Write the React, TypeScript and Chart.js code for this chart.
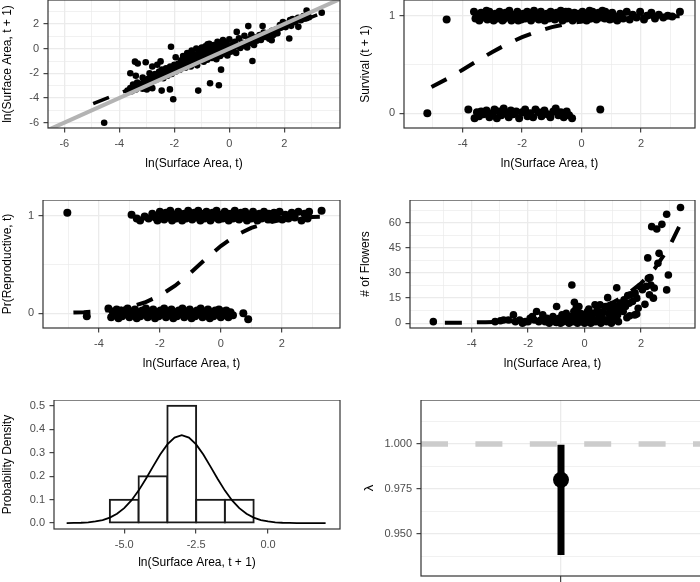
import React, { useEffect, useRef } from "react";
import { Chart, registerables } from "chart.js";
Chart.register(...registerables);

const FONT = "'Liberation Sans', Arial, Helvetica, sans-serif";
const GRID = "#EBEBEB";
const DARK = "#333333";
const TICK_TEXT = "#4D4D4D";

// ---------- Panel 1: growth ----------
const growthPoints: [number, number][] = [
  [-3.7,-3.4],[-3.6,-3.2],[-3.55,-3.45],[-3.5,-2.9],[-3.45,-3.15],[-3.4,-3.3],[-3.35,-2.75],[-3.3,-3.05],
  [-3.2,-2.85],[-3.15,-3.25],[-3.1,-2.55],[-3.05,-2.95],[-3.0,-3.3],[-2.95,-2.45],[-2.9,-2.75],[-2.85,-3.1],
  [-2.8,-2.35],[-2.75,-2.6],[-2.7,-2.05],[-2.65,-2.5],[-2.6,-2.25],[-2.55,-1.85],[-2.5,-2.15],[-2.45,-1.7],
  [-2.4,-2.4],[-2.35,-1.95],[-2.3,-1.6],[-2.25,-2.2],[-2.2,-1.75],[-2.15,-1.45],[-2.1,-2.05],[-2.05,-1.65],
  [-2.0,-1.3],[-1.95,-1.85],[-1.9,-1.5],[-1.85,-1.2],[-1.8,-1.7],[-1.75,-0.95],[-1.72,-1.35],[-1.68,-0.6],
  [-1.65,-1.1],[-1.6,-1.55],[-1.57,-0.8],[-1.53,-0.35],[-1.5,-1.25],[-1.47,-0.95],[-1.43,-0.55],[-1.4,-1.45],
  [-1.37,-0.15],[-1.33,-0.75],[-1.3,-1.1],[-1.27,-0.45],[-1.23,-0.9],[-1.2,0.0],[-1.17,-1.35],[-1.13,-0.6],
  [-1.1,-0.25],[-1.07,-0.95],[-1.03,-0.4],[-1.0,0.1],[-0.97,-0.7],[-0.93,-1.05],[-0.9,-0.3],[-0.87,0.2],
  [-0.83,-0.55],[-0.8,-0.9],[-0.77,-0.15],[-0.73,0.4],[-0.7,-0.45],[-0.67,0.05],[-0.63,-0.75],[-0.6,-0.2],
  [-0.57,0.3],[-0.53,-0.5],[-0.5,0.0],[-0.47,-0.85],[-0.43,0.55],[-0.4,-0.3],[-0.37,0.15],[-0.33,-0.6],
  [-0.3,0.35],[-0.27,-0.1],[-0.23,0.7],[-0.2,-0.4],[-0.17,0.2],[-0.13,-0.15],[-0.1,0.45],[-0.07,-0.55],
  [-0.03,0.1],[0.0,0.75],[0.05,-0.25],[0.1,0.3],[0.15,0.0],[0.2,0.55],[0.25,-0.35],[0.3,0.2],
  [0.35,0.85],[0.4,0.05],[0.45,0.5],[0.5,0.25],[0.55,1.05],[0.6,0.4],[0.65,0.1],[0.7,0.75],
  [0.75,0.45],[0.8,1.15],[0.85,0.6],[0.9,0.3],[0.95,0.9],[1.0,0.65],[1.1,1.1],[1.15,0.7],
  [1.25,1.3],[1.3,0.95],[1.4,1.2],[1.45,0.8],[1.55,1.45],[1.6,1.1],[1.7,1.55],[1.75,1.25],
  [1.85,1.7],[1.95,2.15],[2.05,1.75],[2.15,2.05],[2.25,1.85],[2.3,2.4],[2.4,2.15],[2.5,2.5],
  [2.6,2.3],[2.7,2.65],[2.75,2.45],[2.85,2.85],[2.9,2.55],
  [-4.55,-6.0],[-3.43,-1.05],[-3.33,-1.2],[-3.04,-1.1],[-2.8,-1.45],[-2.5,-1.03],[-3.6,-1.99],
  [-3.4,-2.2],[-3.15,-2.35],[-2.8,-3.2],[-2.46,-3.4],[-2.16,-3.3],[-2.04,-4.1],[-2.12,0.16],
  [-1.13,-3.4],[-0.7,-2.8],[-0.38,-2.97],[-0.3,-1.7],[0.84,-1.0],[-0.79,0.35],[0.27,1.36],
  [0.69,1.83],[1.21,1.83],[2.18,0.82],[2.51,1.77],[2.81,3.09],[2.81,2.46],[3.36,2.92],
  [1.54,0.68],[1.84,1.91],[2.21,2.32],[1.66,1.23],[-2.9,-2.0],[-2.62,-1.3],[-1.95,-0.7],
];
const growthFitX = [-4.95, 3.45];
const growthFitY = [-4.46, 2.97];
const identityX = [-8, 6];
const identityY = [-8, 6];

// ---------- Panel 2: survival ----------
const survivalPoints: [number, number][] = [
  [-3.62,1.04],[-3.57,0.97],[-3.5,1.01],[-3.44,0.95],[-3.38,1.03],[-3.3,0.98],[-3.24,1.02],[-3.17,0.96],
  [-3.1,1.04],[-3.03,0.99],[-2.96,0.95],[-2.9,1.02],[-2.83,0.97],[-2.76,1.04],[-2.7,1.0],[-2.63,0.96],
  [-2.56,1.03],[-2.5,0.98],[-2.43,1.05],[-2.36,0.95],[-2.3,1.01],[-2.23,0.97],[-2.16,1.04],[-2.1,0.99],
  [-2.03,0.96],[-1.96,1.02],[-1.9,0.97],[-1.83,1.04],[-1.77,1.0],[-1.7,0.95],[-1.64,1.03],[-1.57,0.98],
  [-1.5,1.01],[-1.44,0.96],[-1.37,1.04],[-1.3,0.99],[-1.24,0.95],[-1.17,1.02],[-1.1,0.97],[-1.04,1.04],
  [-0.97,1.0],[-0.9,0.96],[-0.84,1.03],[-0.77,0.98],[-0.7,1.05],[-0.64,0.95],[-0.57,1.01],[-0.5,0.97],
  [-0.44,1.04],[-0.37,0.99],[-0.3,0.95],[-0.24,1.03],[-0.17,0.98],[-0.1,1.02],[-0.04,0.96],[0.03,1.04],
  [0.1,0.99],[0.17,0.95],[0.23,1.02],[0.3,0.97],[0.37,1.04],[0.43,1.0],[0.5,0.96],[0.57,1.03],
  [0.63,0.98],[0.7,1.05],[0.78,0.97],[0.86,1.02],[0.95,0.96],[1.03,1.03],[1.12,0.99],[1.2,0.95],
  [1.3,1.02],[1.4,0.97],[1.52,1.04],[1.62,0.96],[1.72,1.01],[1.85,0.98],[1.97,1.04],[2.1,0.96],
  [2.2,1.0],[2.35,1.03],[2.47,0.97],[2.6,1.01],[2.75,0.98],[2.9,1.0],[3.05,0.99],[3.31,1.04],
  [-4.54,0.96],
  [-3.47,0.97],[-3.2,1.05],[-2.93,1.0],[-2.66,0.95],[-2.4,1.0],[-2.13,0.95],[-1.86,0.99],[-1.6,1.05],
  [-1.33,1.0],[-1.07,0.98],[-0.8,1.01],[-0.53,1.04],[-0.27,0.97],[0.0,1.0],[0.27,1.05],[0.53,1.0],
  [0.8,1.04],[1.08,0.97],
  [-5.19,0.0],[0.63,0.04],
  [-3.81,0.04],[-3.6,-0.05],[-3.52,0.01],[-3.45,-0.03],[-3.38,0.02],[-3.3,-0.01],[-3.2,0.03],[-3.1,-0.04],
  [-3.0,0.0],[-2.93,0.04],[-2.85,-0.05],[-2.78,0.02],[-2.7,-0.02],[-2.62,0.05],[-2.55,0.0],[-2.45,-0.04],
  [-2.38,0.03],[-2.3,-0.01],[-2.2,0.02],[-2.1,-0.05],[-2.0,0.01],[-1.9,0.04],[-1.82,-0.03],[-1.73,0.0],
  [-1.63,-0.04],[-1.55,0.04],[-1.45,0.01],[-1.35,-0.03],[-1.25,0.03],[-1.15,-0.01],[-1.05,-0.04],[-0.95,0.02],
  [-0.87,0.05],[-0.78,-0.02],[-0.7,0.01],[-0.6,-0.04],[-0.5,0.02],[-0.42,-0.02],[-0.32,-0.05],
];
const survivalFitX = [-5.05,-4.5,-4.0,-3.5,-3.0,-2.5,-2.0,-1.5,-1.0,-0.5,0,0.5,1.0,1.5,2.0,2.5,3.0,3.3];
const survivalFitY = [0.2696,0.357,0.446,0.5385,0.6286,0.7104,0.7806,0.8376,0.882,0.9156,0.9402,0.958,0.9706,0.9795,0.9858,0.9902,0.9932,0.9945];

// ---------- Panel 3: reproductive ----------
const reproPoints: [number, number][] = [
  [-5.04,1.03],[-2.93,1.01],[-2.76,0.97],[-2.65,0.95],[-2.5,0.99],[-2.37,0.97],[-2.25,1.02],[-2.15,0.98],
  [-2.08,0.95],[-2.0,1.04],[-1.93,0.99],[-1.86,0.96],[-1.8,1.03],[-1.73,0.98],[-1.66,1.05],[-1.6,0.95],
  [-1.53,1.01],[-1.47,0.97],[-1.4,1.04],[-1.34,0.99],[-1.27,0.95],[-1.2,1.02],[-1.14,0.97],[-1.07,1.05],
  [-1.0,1.0],[-0.94,0.96],[-0.87,1.03],[-0.8,0.98],[-0.74,1.05],[-0.67,0.95],[-0.6,1.01],[-0.54,0.97],
  [-0.47,1.04],[-0.4,0.99],[-0.34,0.95],[-0.27,1.03],[-0.2,0.98],[-0.14,1.05],[-0.07,0.96],[0.0,1.01],
  [0.06,0.97],[0.13,1.04],[0.2,0.99],[0.26,0.95],[0.33,1.02],[0.4,0.97],[0.46,1.05],[0.53,1.0],
  [0.6,0.96],[0.66,1.03],[0.73,0.98],[0.8,1.04],[0.86,0.95],[0.93,1.01],[1.0,0.97],[1.06,1.04],
  [1.13,0.99],[1.2,0.95],[1.27,1.02],[1.34,0.97],[1.42,1.04],[1.5,0.98],[1.58,1.02],[1.66,0.96],
  [1.75,1.03],[1.84,0.99],[1.93,1.04],[2.02,0.96],[2.12,1.01],[2.22,0.97],[2.33,1.03],[2.43,0.98],
  [2.55,1.04],[2.65,0.95],[2.75,1.02],[2.85,0.97],[2.9,1.04],[3.31,1.05],
  [-1.9,1.02],[-1.63,0.99],[-1.37,1.01],[-1.1,0.99],[-0.84,1.0],[-0.57,1.02],[-0.3,1.0],[-0.04,0.99],
  [0.23,1.02],[0.5,0.98],[0.76,1.0],[1.03,1.02],[1.3,1.0],[1.55,0.96],[-2.2,1.0],
  [-4.4,-0.03],[-3.69,0.05],[-3.6,-0.04],[-3.55,0.02],[-3.48,-0.02],[-3.42,0.04],[-3.36,-0.05],[-3.3,0.01],
  [-3.24,-0.03],[-3.18,0.03],[-3.12,-0.01],[-3.06,0.05],[-3.0,-0.04],[-2.94,0.02],[-2.88,-0.02],[-2.82,0.04],
  [-2.76,-0.05],[-2.7,0.01],[-2.64,-0.03],[-2.58,0.03],[-2.52,-0.01],[-2.46,0.05],[-2.4,-0.04],[-2.34,0.02],
  [-2.28,-0.02],[-2.22,0.04],[-2.16,-0.05],[-2.1,0.01],[-2.04,-0.03],[-1.98,0.03],[-1.92,-0.01],[-1.86,0.05],
  [-1.8,-0.04],[-1.74,0.02],[-1.68,-0.02],[-1.62,0.04],[-1.56,-0.05],[-1.5,0.01],[-1.44,-0.03],[-1.38,0.03],
  [-1.32,-0.01],[-1.26,0.05],[-1.2,-0.04],[-1.14,0.02],[-1.08,-0.02],[-1.02,0.04],[-0.96,-0.05],[-0.9,0.01],
  [-0.84,-0.03],[-0.78,0.03],[-0.72,-0.01],[-0.66,0.05],[-0.6,-0.04],[-0.54,0.02],[-0.48,-0.02],[-0.42,0.04],
  [-0.36,-0.05],[-0.3,0.01],[-0.24,-0.03],[-0.18,0.03],[-0.12,-0.01],[-0.06,0.04],[0.0,-0.04],[0.06,0.02],
  [0.12,-0.02],[0.18,0.03],[0.25,-0.04],[0.32,0.01],[0.4,-0.02],[0.74,0.0],[0.9,-0.06],
];
const reproFitX = [-4.84,-4.5,-4.0,-3.5,-3.0,-2.5,-2.0,-1.5,-1.0,-0.5,0,0.5,1.0,1.5,2.0,2.5,3.0,3.3];
const reproFitY = [0.0084,0.0124,0.0218,0.0381,0.0657,0.111,0.1816,0.2829,0.4122,0.5548,0.6889,0.7974,0.8749,0.9255,0.9567,0.9752,0.9859,0.9899];

// ---------- Panel 4: flowers ----------
const flowerPoints: [number, number][] = [
  [-5.36,1],[-3.17,1],[-2.98,1.5],[-2.87,2],[-2.7,2],[-2.52,5],[-2.45,1],[-2.3,2],[-2.2,0],[-2.1,1],
  [-2.0,1],[-1.93,3],[-1.85,4],[-1.78,2],[-1.7,7],[-1.62,1],[-1.55,2],[-1.48,5],[-1.4,1],[-1.33,3],
  [-1.25,0],[-1.2,2],[-1.12,4],[-1.05,1],[-0.99,10],[-0.95,2],[-0.9,3],[-0.85,0],[-0.8,5],[-0.75,1],
  [-0.7,3],[-0.65,6],[-0.6,2],[-0.55,0],[-0.5,4],[-0.45,22.8],[-0.42,1],[-0.38,7],[-0.36,12.5],[-0.33,3],
  [-0.3,9],[-0.28,5],[-0.25,0],[-0.2,2],[-0.15,6],[-0.12,4],[-0.08,1],[-0.05,3],[0.0,0],[0.03,5],
  [0.07,2],[0.1,7],[0.14,1],[0.18,3],[0.22,0],[0.25,4],[0.3,6],[0.33,2],[0.37,11],[0.4,1],
  [0.45,8],[0.49,3],[0.52,5],[0.55,11],[0.58,0],[0.62,4],[0.66,7],[0.7,2],[0.74,10],[0.78,1],
  [0.82,15.3],[0.85,6],[0.88,3],[0.92,9],[0.95,1],[0.98,11],[1.0,4],[1.03,7],[1.07,2],[1.1,10],
  [1.14,21.2],[1.17,5],[1.2,9],[1.25,12],[1.3,8],[1.35,11],[1.4,14],[1.45,10],[1.5,3.3],[1.53,16.5],
  [1.58,12],[1.63,17],[1.7,13],[1.78,5],[1.79,18],[1.85,15],[1.9,9],[1.97,21.8],[2.05,20],[2.14,11.3],
  [2.19,22],[2.24,39],[2.26,26.8],[2.3,17],[2.32,27.2],[2.35,22.8],[2.38,57.6],[2.44,15],[2.47,21],[2.56,56.2],
  [2.6,35.8],[2.64,41.7],[2.74,59],[2.91,65],[2.91,19.9],[2.97,28.8],[3.4,69],[1.6,4.5],[1.85,5.5],[-0.2,10],
  [0.6,2],[1.2,1],[0.95,0],[0.3,1],[-1.0,0.5],[-0.6,1.5],[0.15,8.5],[1.37,7],[1.1,5.5],[1.08,2],
];
const flowerFitX = [-4.95,-4.5,-4.0,-3.5,-3.0,-2.5,-2.0,-1.5,-1.0,-0.5,0,0.5,1.0,1.5,2.0,2.5,3.0,3.46];
const flowerFitY = [0.263,0.352,0.487,0.674,0.931,1.288,1.781,2.462,3.404,4.707,6.508,8.998,12.44,17.2,23.78,32.89,45.47,61.25];

// ---------- Panel 5: histogram ----------
const histCenters = [-5, -4, -3, -2, -1];
const histDensity = [0.1, 0.2, 0.5, 0.1, 0.1];
const densityX = [-7,-6.75,-6.5,-6.25,-6,-5.75,-5.5,-5.25,-5,-4.75,-4.5,-4.25,-4,-3.75,-3.5,-3.25,-3,-2.75,-2.5,-2.25,-2,-1.75,-1.5,-1.25,-1,-0.75,-0.5,-0.25,0,0.25,0.5,0.75,1,1.25,1.5,1.75,2];
const densityY = [0.00032,0.00075,0.00168,0.00354,0.00705,0.0133,0.0237,0.04,0.064,0.0968,0.1387,0.1879,0.2409,0.2925,0.3358,0.3648,0.375,0.3648,0.3358,0.2925,0.2409,0.1879,0.1387,0.0968,0.064,0.04,0.0237,0.0133,0.00705,0.00354,0.00168,0.00075,0.00032,0.00013,0.00005,0.00002,0.000006];

// ---------- Panel 6: lambda ----------
const lambdaX = [1];
const lambdaEstimate = [0.98];
const lambdaLow = [0.9381];
const lambdaHigh = [0.9995];
const lambdaReference = 1.0;

type Box = { cx: number; cy: number; cw: number; ch: number; l: number; t: number; r: number; b: number };

const isIn = (arr: number[], v: number) => arr.some((m) => Math.abs(m - v) < 1e-9);

function axis(o: {
  axis: "x" | "y"; min: number; max: number; major: number[]; minor: number[];
  fmt: (v: number) => string; size: number; grid: boolean; title?: string; titlePad: number;
  titleSize?: number; tickLength?: number;
}) {
  const all = [...o.major, ...o.minor].sort((a, b) => a - b);
  return {
    type: "linear",
    min: o.min,
    max: o.max,
    afterBuildTicks: (s: any) => { s.ticks = all.map((v) => ({ value: v })); },
    afterFit: (s: any) => {
      if (o.axis === "x") s.height = o.size; else s.width = o.size;
      s.paddingTop = 0; s.paddingBottom = 0; s.paddingLeft = 0; s.paddingRight = 0;
    },
    ticks: {
      autoSkip: false, maxRotation: 0, minRotation: 0, padding: 4.5, color: TICK_TEXT,
      font: { family: FONT, size: 11 },
      callback: (v: any) => (isIn(o.major, Number(v)) ? o.fmt(Number(v)) : ""),
    },
    grid: {
      drawOnChartArea: o.grid,
      drawTicks: true,
      tickLength: o.tickLength ?? 4.5,
      color: GRID,
      lineWidth: (c: any) => (c.tick && isIn(o.major, c.tick.value) ? 1.3 : 0.7),
      tickColor: (c: any) => (c.tick && isIn(o.major, c.tick.value) ? DARK : "rgba(0,0,0,0)"),
      tickWidth: 1.1,
    },
    border: { display: false },
    title: {
      display: !!o.title,
      text: o.title ?? "",
      color: "#000000",
      font: { family: FONT, size: o.titleSize ?? 12 },
      padding: o.axis === "x" ? { top: 0, bottom: o.titlePad } : { top: o.titlePad, bottom: 0 },
    },
  };
}

const borderPlugin = {
  id: "panelBorder",
  afterDatasetsDraw(chart: any) {
    const { ctx, chartArea } = chart;
    const { left, top, right, bottom } = chartArea;
    ctx.save();
    ctx.strokeStyle = DARK;
    ctx.lineWidth = 1.2;
    ctx.strokeRect(left, top, right - left, bottom - top);
    ctx.restore();
  },
};

function baseOptions(box: Box, scales: any) {
  return {
    responsive: false,
    animation: false,
    devicePixelRatio: 1,
    events: [],
    layout: {
      autoPadding: false,
      padding: { left: 0, top: box.t - box.cy, right: box.cx + box.cw - box.r, bottom: 0 },
    },
    plugins: { legend: { display: false }, tooltip: { enabled: false }, title: { display: false } },
    scales,
  };
}

const pts = (arr: [number, number][]) => arr.map(([x, y]) => ({ x, y }));
const zip = (xs: number[], ys: number[]) => xs.map((x, i) => ({ x, y: ys[i] }));
const intFmt = (v: number) => String(v);

function Panel({ box, make }: { box: Box; make: () => any }) {
  const ref = useRef<HTMLCanvasElement>(null);
  useEffect(() => {
    const chart = new Chart(ref.current as HTMLCanvasElement, make());
    return () => chart.destroy();
  }, []);
  return (
    <canvas
      ref={ref}
      width={box.cw}
      height={box.ch}
      style={{ position: "absolute", left: box.cx, top: box.cy, width: box.cw, height: box.ch, display: "block" }}
    />
  );
}

const XT_ROW1 = 163.3, XT_ROW2 = 363.3, XT_ROW3 = 562.7;

function scatterPanel(box: Box, o: {
  xmin: number; xmax: number; ymin: number; ymax: number;
  xMajor: number[]; xMinor: number[]; yMajor: number[]; yMinor: number[];
  yTitle: string; yTitleX: number; xTitleY: number; datasets: any[];
}) {
  const scales = {
    x: axis({ axis: "x", min: o.xmin, max: o.xmax, major: o.xMajor, minor: o.xMinor, fmt: intFmt,
      size: box.cy + box.ch - box.b, grid: true, title: "ln(Surface Area, t)",
      titlePad: box.cy + box.ch - 7.2 - o.xTitleY }),
    y: axis({ axis: "y", min: o.ymin, max: o.ymax, major: o.yMajor, minor: o.yMinor, fmt: intFmt,
      size: box.l - box.cx, grid: true, title: o.yTitle, titlePad: o.yTitleX - box.cx - 7.2 }),
  };
  return { type: "scatter", data: { datasets: o.datasets }, options: baseOptions(box, scales), plugins: [borderPlugin] };
}

const dashed = (data: any[], width = 4) => ({
  type: "scatter", data, showLine: true, pointRadius: 0, borderColor: "#000000", borderWidth: width,
  borderDash: [17, 15], borderCapStyle: "butt", fill: false,
});
const dots = (data: any[], r: number) => ({
  type: "scatter", data, pointRadius: r, pointBackgroundColor: "#000000", pointBorderWidth: 0, showLine: false,
});

const box1: Box = { cx: 0, cy: 0, cw: 350, ch: 200, l: 48, t: 0, r: 340, b: 128 };
const box2: Box = { cx: 350, cy: 0, cw: 350, ch: 200, l: 404, t: 0, r: 695, b: 128 };
const box3: Box = { cx: 0, cy: 200, cw: 350, ch: 200, l: 43, t: 200, r: 340, b: 328 };
const box4: Box = { cx: 350, cy: 200, cw: 350, ch: 200, l: 410, t: 200, r: 695, b: 328 };
const box5: Box = { cx: 0, cy: 400, cw: 350, ch: 182, l: 54, t: 400, r: 340, b: 529 };
const box6: Box = { cx: 350, cy: 400, cw: 360, ch: 182, l: 421, t: 400, r: 701, b: 576 };

const make1 = () => scatterPanel(box1, {
  xmin: -6.593, xmax: 4.025, ymin: -6.43, ymax: 3.945,
  xMajor: [-6, -4, -2, 0, 2], xMinor: [-5, -3, -1, 1, 3],
  yMajor: [-6, -4, -2, 0, 2], yMinor: [-5, -3, -1, 1, 3],
  yTitle: "ln(Surface Area, t + 1)", yTitleX: 7.2, xTitleY: XT_ROW1,
  datasets: [
    { type: "scatter", data: zip(identityX, identityY), showLine: true, pointRadius: 0, borderColor: "#B3B3B3", borderWidth: 4, fill: false },
    dashed(zip(growthFitX, growthFitY), 3.5),
    dots(pts(growthPoints), 3.3),
  ],
});

const make2 = () => scatterPanel(box2, {
  xmin: -5.975, xmax: 3.817, ymin: -0.15, ymax: 1.16,
  xMajor: [-4, -2, 0, 2], xMinor: [-5, -3, -1, 1, 3],
  yMajor: [0, 1], yMinor: [0.5],
  yTitle: "Survival (t + 1)", yTitleX: 366, xTitleY: XT_ROW1,
  datasets: [dashed(zip(survivalFitX, survivalFitY)), dots(pts(survivalPoints), 4)],
});

const make3 = () => scatterPanel(box3, {
  xmin: -5.839, xmax: 3.915, ymin: -0.15, ymax: 1.16,
  xMajor: [-4, -2, 0, 2], xMinor: [-5, -3, -1, 1, 3],
  yMajor: [0, 1], yMinor: [0.5],
  yTitle: "Pr(Reproductive, t)", yTitleX: 7.2, xTitleY: XT_ROW2,
  datasets: [dashed(zip(reproFitX, reproFitY)), dots(pts(reproPoints), 4)],
});

const make4 = () => scatterPanel(box4, {
  xmin: -6.186, xmax: 3.914, ymin: -2.8, ymax: 73.5,
  xMajor: [-4, -2, 0, 2], xMinor: [-5, -3, -1, 1, 3],
  yMajor: [0, 15, 30, 45, 60], yMinor: [7.5, 22.5, 37.5, 52.5, 67.5],
  yTitle: "# of Flowers", yTitleX: 366, xTitleY: XT_ROW2,
  datasets: [dashed(zip(flowerFitX, flowerFitY)), dots(pts(flowerPoints), 3.8)],
});

const make5 = () => {
  const box = box5;
  const scales = {
    x: axis({ axis: "x", min: -7.44, max: 2.5, major: [-5, -2.5, 0], minor: [], fmt: (v) => v.toFixed(1),
      size: box.cy + box.ch - box.b, grid: false, title: "ln(Surface Area, t + 1)",
      titlePad: box.cy + box.ch - 7.2 - XT_ROW3 }),
    y: axis({ axis: "y", min: -0.025, max: 0.525, major: [0, 0.1, 0.2, 0.3, 0.4, 0.5], minor: [],
      fmt: (v) => v.toFixed(1), size: box.l - box.cx, grid: false, title: "Probability Density", titlePad: 0 }),
  };
  (scales.x as any).offset = false;
  (scales.x as any).grid.offset = false;
  return {
    type: "bar",
    data: {
      datasets: [
        { type: "line", data: zip(densityX, densityY), borderColor: "#000000", borderWidth: 1.8, pointRadius: 0, fill: false, tension: 0 },
        {
          type: "bar", data: zip(histCenters, histDensity), backgroundColor: "#FFFFFF", borderColor: "#1A1A1A",
          borderWidth: 2, borderSkipped: false, barPercentage: 1, categoryPercentage: 1, inflateAmount: 1,
        },
      ],
    },
    options: baseOptions(box, scales),
    plugins: [borderPlugin],
  };
};

const make6 = () => {
  const box = box6;
  const scales = {
    x: axis({ axis: "x", min: 0, max: 2, major: [1], minor: [], fmt: () => "",
      size: box.cy + box.ch - box.b, grid: true, titlePad: 0, tickLength: 6 }),
    y: axis({ axis: "y", min: 0.9264, max: 1.0245, major: [0.95, 0.975, 1.0],
      minor: [0.9375, 0.9625, 0.9875, 1.0125], fmt: (v) => v.toFixed(3),
      size: box.l - box.cx, grid: true, title: "λ", titlePad: 369 - box.cx - 7.8, titleSize: 13 }),
  };
  const errData = lambdaX.flatMap((x, i) => [{ x, y: lambdaHigh[i] }, { x, y: lambdaLow[i] }]);
  return {
    type: "scatter",
    data: {
      datasets: [
        dots(zip(lambdaX, lambdaEstimate), 8),
        { type: "scatter", data: errData, showLine: true, pointRadius: 0, borderColor: "#000000", borderWidth: 7, borderCapStyle: "butt", fill: false },
        { type: "scatter", data: [{ x: 0, y: lambdaReference }, { x: 2, y: lambdaReference }], showLine: true, pointRadius: 0,
          borderColor: "#CCCCCC", borderWidth: 5.5, borderDash: [27, 27.4], borderCapStyle: "butt", fill: false },
      ],
    },
    options: baseOptions(box, scales),
    plugins: [borderPlugin],
  };
};

export default function App() {
  return (
    <div style={{ position: "fixed", left: 0, top: 0, width: 700, height: 582, overflow: "hidden", background: "#FFFFFF" }}>
      <Panel box={box1} make={make1} />
      <Panel box={box2} make={make2} />
      <Panel box={box3} make={make3} />
      <Panel box={box4} make={make4} />
      <Panel box={box5} make={make5} />
      <Panel box={box6} make={make6} />
    </div>
  );
}
